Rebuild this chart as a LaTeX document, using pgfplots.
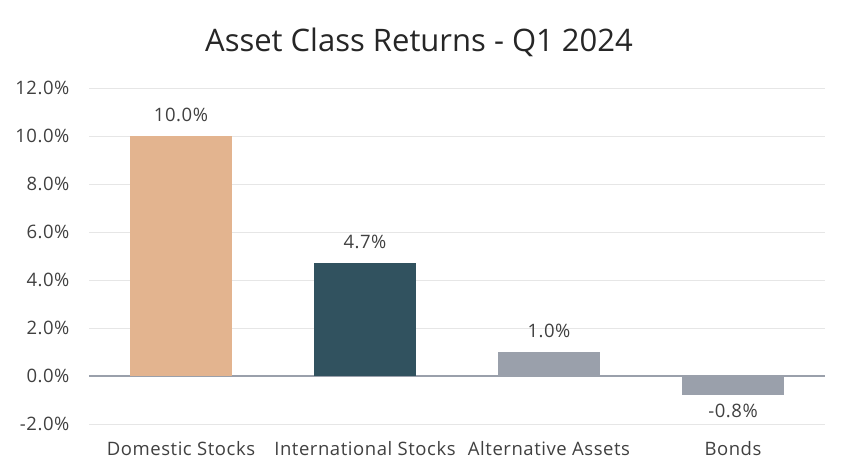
\documentclass[border=0pt]{standalone}
\usepackage{pgfplots}
\pgfplotsset{compat=1.18}
\usepackage{fontspec}
\setmainfont{Open Sans}[LetterSpace=3]
\newfontfamily\titlefont{Open Sans}
\definecolor{tan}{HTML}{E3B48F}
\definecolor{teal}{HTML}{31525F}
\definecolor{grayb}{HTML}{9AA0AB}
\definecolor{txt}{HTML}{404040}
\definecolor{gridc}{HTML}{E6E6E6}
\begin{document}
\begin{tikzpicture}
\useasboundingbox (-89bp,-52bp) rectangle (761bp,424bp);
\begin{axis}[
  at={(0,0)}, anchor=south west,
  scale only axis,
  width=736bp, height=336bp,
  ybar, bar width=102bp,
  xmin=-0.5, xmax=3.5,
  ymin=-2, ymax=12,
  ytick={-2,0,2,4,6,8,10,12},
  yticklabel={\pgfmathprintnumber[fixed,fixed zerofill,precision=1]{\tick}\%},
  /pgf/number format/assume math mode=true,
  xtick={0,1,2,3},
  xticklabels={Domestic Stocks,International Stocks,Alternative Assets,Bonds},
  axis line style={draw=none},
  major tick length=0pt,
  ymajorgrids, grid style={gridc, line width=0.8pt},
  extra y ticks={0}, extra y tick labels={},
  extra y tick style={grid style={grayb, line width=2.5pt}},
  ticklabel style={font=\fontsize{18.5bp}{21bp}\selectfont, text=txt},
  yticklabel style={xshift=-16bp},
  xticklabel style={yshift=-14bp},
  nodes near coords={\pgfmathprintnumber[fixed,fixed zerofill,precision=1]{\pgfplotspointmeta}\%},
  nodes near coords align={vertical},
  every node near coord/.append style={font=\fontsize{18.5bp}{21bp}\selectfont, text=txt, inner sep=14bp},
  clip=false,
]
\addplot[fill=tan, draw=none, bar shift=0pt] coordinates {(0,10.0)};
\addplot[fill=teal, draw=none, bar shift=0pt] coordinates {(1,4.7)};
\addplot[fill=grayb, draw=none, bar shift=0pt] coordinates {(2,1.0)};
\addplot[fill=grayb, draw=none, bar shift=0pt, every node near coord/.append style={inner sep=9bp}] coordinates {(3,-0.8)};
\end{axis}
\node[font=\titlefont\fontsize{31bp}{35bp}\selectfont, text=black!85] at (330bp,382bp) {Asset Class Returns - Q1 2024};
\end{tikzpicture}
\end{document}
